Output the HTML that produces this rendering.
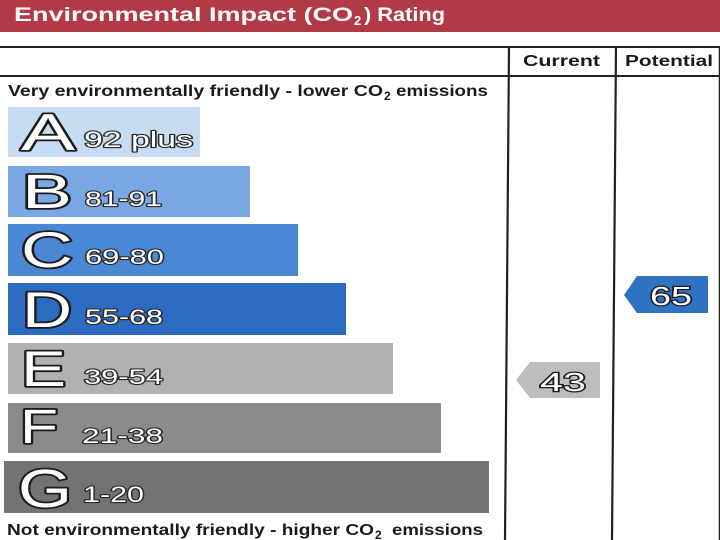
<!DOCTYPE html>
<html>
<head>
<meta charset="utf-8">
<style>
html,body{margin:0;padding:0;background:#fff;}
svg{display:block;}
text{font-family:"Liberation Sans",sans-serif;}
</style>
</head>
<body>
<svg width="720" height="540" viewBox="0 0 720 540" xmlns="http://www.w3.org/2000/svg">
  <rect x="0" y="0" width="720" height="540" fill="#ffffff"/>
  <!-- header -->
  <rect x="0" y="0" width="720" height="32" fill="#b23a45"/>
  <text x="14" y="21" font-size="19" font-weight="bold" fill="#ffffff" textLength="339" lengthAdjust="spacingAndGlyphs">Environmental Impact (CO</text>
  <text x="354" y="25" font-size="13" font-weight="bold" fill="#ffffff">2</text>
  <text x="364" y="21" font-size="19" font-weight="bold" fill="#ffffff" textLength="81" lengthAdjust="spacingAndGlyphs">) Rating</text>

  <!-- table lines -->
  <line x1="0" y1="47" x2="720" y2="47" stroke="#222" stroke-width="2"/>
  <line x1="0" y1="76" x2="720" y2="76" stroke="#222" stroke-width="2"/>
  <line x1="509" y1="47" x2="505" y2="540" stroke="#222" stroke-width="2.2"/>
  <line x1="616" y1="47" x2="612" y2="540" stroke="#222" stroke-width="2.2"/>
  <line x1="719.5" y1="47" x2="719.5" y2="540" stroke="#222" stroke-width="1.5"/>

  <text x="523" y="66" font-size="16" font-weight="bold" fill="#1a1a1a" textLength="77" lengthAdjust="spacingAndGlyphs">Current</text>
  <text x="625" y="66" font-size="16" font-weight="bold" fill="#1a1a1a" textLength="88" lengthAdjust="spacingAndGlyphs">Potential</text>

  <text x="8" y="96" font-size="16" font-weight="bold" fill="#1a1a1a" textLength="375" lengthAdjust="spacingAndGlyphs">Very environmentally friendly - lower CO</text>
  <text x="384" y="100" font-size="12" font-weight="bold" fill="#1a1a1a">2</text>
  <text x="396" y="96" font-size="16" font-weight="bold" fill="#1a1a1a" textLength="92" lengthAdjust="spacingAndGlyphs">emissions</text>

  <!-- bars -->
  <rect x="8" y="107" width="192" height="50" fill="#c6dcf3"/>
  <rect x="8" y="166" width="242" height="51" fill="#79a8e4"/>
  <rect x="8" y="224" width="290" height="52" fill="#4a88d6"/>
  <rect x="8" y="283" width="338" height="52" fill="#2c6cc0"/>
  <rect x="8" y="343" width="385" height="51" fill="#b1b1b1"/>
  <rect x="8" y="403" width="433" height="50" fill="#8b8b8b"/>
  <rect x="4" y="461" width="485" height="52" fill="#737373"/>

  <g stroke="#1c1c1c" stroke-width="3.6" fill="#ffffff" paint-order="stroke" stroke-linejoin="round">
    <text x="21" y="150" font-size="52" textLength="54" lengthAdjust="spacingAndGlyphs">A</text>
    <text x="22" y="208" font-size="48" textLength="50" lengthAdjust="spacingAndGlyphs">B</text>
    <text x="21" y="267" font-size="50" textLength="52" lengthAdjust="spacingAndGlyphs">C</text>
    <text x="22" y="327" font-size="50" textLength="50" lengthAdjust="spacingAndGlyphs">D</text>
    <text x="21" y="386" font-size="50" textLength="45" lengthAdjust="spacingAndGlyphs">E</text>
    <text x="20" y="443" font-size="48" textLength="38" lengthAdjust="spacingAndGlyphs">F</text>
    <text x="18" y="507" font-size="54" textLength="54" lengthAdjust="spacingAndGlyphs">G</text>
  </g>
  <g stroke="#2a2a2a" stroke-width="2.2" fill="#ffffff" paint-order="stroke" stroke-linejoin="round">
    <text x="84" y="147" font-size="22" textLength="109" lengthAdjust="spacingAndGlyphs">92 plus</text>
    <text x="85" y="206" font-size="21" textLength="77" lengthAdjust="spacingAndGlyphs">81-91</text>
    <text x="85" y="264" font-size="21" textLength="79" lengthAdjust="spacingAndGlyphs">69-80</text>
    <text x="85" y="324" font-size="21" textLength="78" lengthAdjust="spacingAndGlyphs">55-68</text>
    <text x="84" y="384" font-size="21" textLength="79" lengthAdjust="spacingAndGlyphs">39-54</text>
    <text x="82" y="443" font-size="21" textLength="81" lengthAdjust="spacingAndGlyphs">21-38</text>
    <text x="83" y="502" font-size="22" textLength="61" lengthAdjust="spacingAndGlyphs">1-20</text>
  </g>

  <text x="7" y="535" font-size="16" font-weight="bold" fill="#1a1a1a" textLength="367" lengthAdjust="spacingAndGlyphs">Not environmentally friendly - higher CO</text>
  <text x="375" y="539" font-size="12" font-weight="bold" fill="#1a1a1a">2</text>
  <text x="392" y="535" font-size="16" font-weight="bold" fill="#1a1a1a" textLength="91" lengthAdjust="spacingAndGlyphs">emissions</text>

  <!-- arrows -->
  <polygon points="624,295 637,276 708,276 708,313 637,313" fill="#2f72c2"/>
  <text x="650" y="305" font-size="26" fill="#ffffff" stroke="#1c1c1c" stroke-width="2.4" paint-order="stroke" textLength="42" lengthAdjust="spacingAndGlyphs">65</text>
  <polygon points="516,380 530,362 600,362 600,398 530,398" fill="#bdbdbd"/>
  <text x="540" y="391" font-size="26" fill="#ffffff" stroke="#1c1c1c" stroke-width="2.4" paint-order="stroke" textLength="46" lengthAdjust="spacingAndGlyphs">43</text>
</svg>
</body>
</html>
